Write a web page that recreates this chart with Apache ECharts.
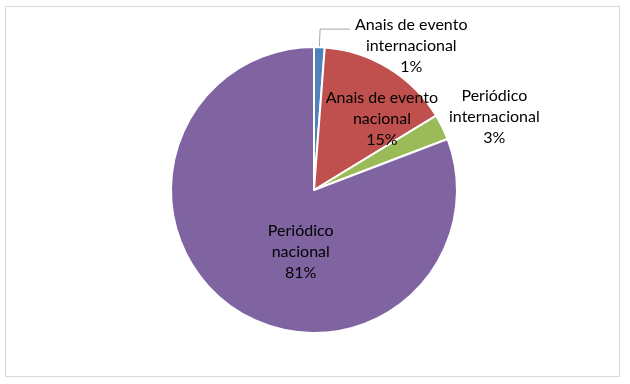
<!DOCTYPE html>
<html>
<head>
<meta charset="utf-8">
<script src="https://cdn.jsdelivr.net/npm/echarts@6/dist/echarts.min.js"></script>
<style>
  html, body { margin: 0; padding: 0; background: #fff; }
  #chart { width: 630px; height: 384px; }
</style>
</head>
<body>
<div id="chart"></div>
<script>
const categories = ['Anais de evento\ninternacional', 'Anais de evento\nnacional', 'Periódico\ninternacional', 'Periódico\nnacional'];
const shares = [1.2, 15.1, 2.9, 80.8];
const sliceColors = ['#4F81BD', '#C0504D', '#9BBB59', '#8064A2'];

// label placement per slice, like Excel's "best fit"
const labelSetup = [
    {position: 'outside', offset: [0, 17], line: true, len: 18, len2: 30},
    {position: 'inside', offset: [29, -8], line: false, len: 14, len2: 8},
    {position: 'outside', offset: [-19, -4], line: false, len: 14, len2: 8},
    {position: 'inside', offset: [29, 0], line: false, len: 14, len2: 8}
];

// every line centred, as Excel does
const labelText = (p) => p.name.split('\n').concat(p.percent + '%').map(s => '{t|' + s + '}').join('\n');

const chart = echarts.init(document.getElementById('chart'));
chart.setOption({
    animation: false,
    graphic: [{
        type: 'rect',
        shape: {x: 5.5, y: 6.5, width: 614, height: 370},
        style: {fill: 'none', stroke: '#d9d9d9', lineWidth: 1},
        silent: true
    }],
    series: [{
        type: 'pie',
        center: [314, 190],
        radius: 143,
        startAngle: 90,
        clockwise: true,
        percentPrecision: 0,
        itemStyle: {borderColor: '#fff', borderWidth: 2},
        label: {
            formatter: labelText,
            rich: {
                t: {fontFamily: 'Lato', fontSize: 16, lineHeight: 21, color: '#000', align: 'center'}
            }
        },
        labelLine: {
            lineStyle: {color: '#a6a6a6', width: 1}
        },
        data: categories.map((name, i) => ({
            name,
            value: shares[i],
            itemStyle: {color: sliceColors[i]},
            label: {position: labelSetup[i].position, offset: labelSetup[i].offset},
            labelLine: {show: labelSetup[i].line, length: labelSetup[i].len, length2: labelSetup[i].len2}
        }))
    }]
});
</script>
</body>
</html>
